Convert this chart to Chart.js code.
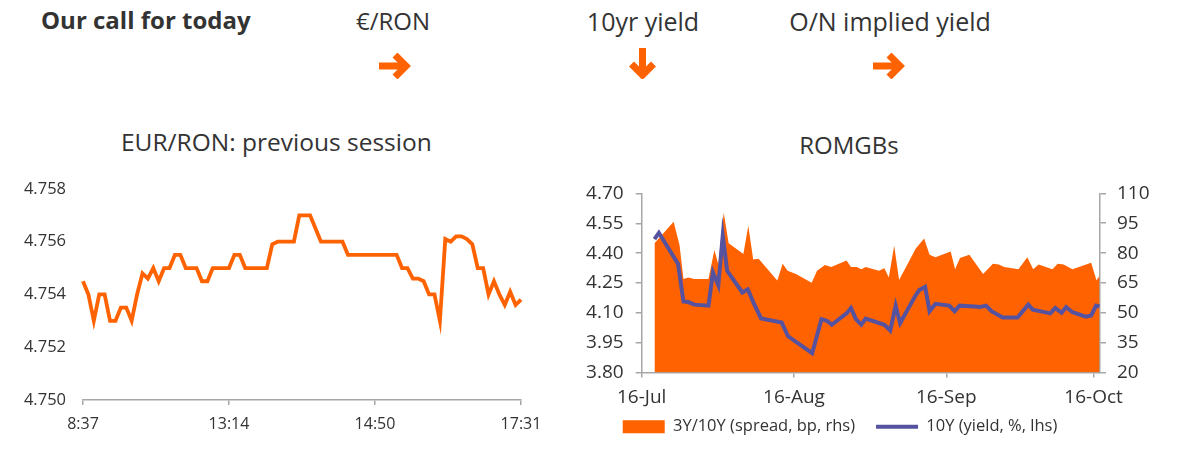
<!DOCTYPE html>
<html>
<head>
<meta charset="utf-8">
<script src="https://cdn.jsdelivr.net/npm/chart.js@4.4.1/dist/chart.umd.min.js"></script>
<style>
  body { margin: 0; background: #fff; font-family: "Open Sans", sans-serif; color: #333; }
  #page { position: relative; width: 1200px; height: 457px; overflow: hidden; }
  .txt { position: absolute; width: 300px; line-height: 30px; text-align: center; white-space: nowrap; font-size: 24px; }
  .arrow { position: absolute; }
  .box { position: absolute; }
</style>
</head>
<body>
<div id="page">
  <div class="txt" style="left:41px; top:5px; width:auto; text-align:left; font-weight:700; font-size:24px;">Our call for today</div>
  <div class="txt" style="left:243px; top:6px;">€/RON</div>
  <div class="txt" style="left:493px; top:6px; font-size:25px;">10yr yield</div>
  <div class="txt" style="left:740px; top:6px; font-size:25px;">O/N implied yield</div>

  <svg class="arrow" style="left:379px; top:53px;" width="32" height="26" viewBox="0 0 32 26">
    <path d="M0 13 H25" stroke="#ff6200" stroke-width="7" fill="none"/>
    <path d="M16 2 L27 13 L16 24" stroke="#ff6200" stroke-width="7" fill="none" stroke-linejoin="miter"/>
  </svg>
  <svg class="arrow" style="left:629px; top:48px;" width="27" height="31" viewBox="0 0 27 31">
    <path d="M13.5 0 V26" stroke="#ff6200" stroke-width="7" fill="none"/>
    <path d="M2.5 16 L13.5 27 L24.5 16" stroke="#ff6200" stroke-width="7" fill="none" stroke-linejoin="miter"/>
  </svg>
  <svg class="arrow" style="left:873px; top:53px;" width="32" height="26" viewBox="0 0 32 26">
    <path d="M0 13 H25" stroke="#ff6200" stroke-width="7" fill="none"/>
    <path d="M16 2 L27 13 L16 24" stroke="#ff6200" stroke-width="7" fill="none" stroke-linejoin="miter"/>
  </svg>

  <div class="txt" style="left:121px; top:127px; font-size:24.5px;">EUR/RON: previous session</div>
  <div class="txt" style="left:699px; top:130px;">ROMGBs</div>

  <div class="box" style="left:0; top:170px;"><canvas id="fxChart" width="560" height="287"></canvas></div>
  <div class="box" style="left:570px; top:170px;"><canvas id="bondChart" width="600" height="287"></canvas></div>
</div>

<script>
// EUR/RON intraday, previous session (one value per sampled quote)
const eurRon = [
  4.7545, 4.7540, 4.7530, 4.7540, 4.7540, 4.7530, 4.7530, 4.7535, 4.7535, 4.7530,
  4.7540, 4.7548, 4.7546, 4.7550, 4.7545, 4.7550, 4.7550, 4.7555, 4.7555, 4.7550,
  4.7550, 4.7550, 4.7545, 4.7545, 4.7550, 4.7550, 4.7550, 4.7550, 4.7555, 4.7555,
  4.7550, 4.7550, 4.7550, 4.7550, 4.7550, 4.7559, 4.7560, 4.7560, 4.7560, 4.7560,
  4.7570, 4.7570, 4.7570, 4.7565, 4.7560, 4.7560, 4.7560, 4.7560, 4.7560, 4.7555,
  4.7555, 4.7555, 4.7555, 4.7555, 4.7555, 4.7555, 4.7555, 4.7555, 4.7555, 4.7550,
  4.7550, 4.7546, 4.7546, 4.7545, 4.7540, 4.7540, 4.7530, 4.7561, 4.7560, 4.7562,
  4.7562, 4.7561, 4.7559, 4.7550, 4.7550, 4.7540, 4.7545, 4.7540, 4.7536, 4.7541,
  4.7536, 4.7538
];
const fxTickIndex = [0, 27, 54, 81];
const fxTickLabels = ["8:37", "13:14", "14:50", "17:31"];
const fxYTicks = [4.750, 4.752, 4.754, 4.756, 4.758];

// ROMGBs: days counted from 16-Jul
const spreadDays = [
  2.6, 6.5, 7.7, 8.5, 9.5, 10.7, 13.6, 14.8, 15.6, 16.7,
  17.7, 20.7, 21.7, 22.7, 23.8, 27.6, 28.7, 29.7, 31.4, 34.6,
  35.7, 37.3, 38.6, 41.7, 42.6, 43.8, 44.7, 45.6, 48.3, 49.4,
  50.3, 51.4, 52.4, 55.8, 57.5, 58.6, 59.8, 62.9, 63.8, 64.8,
  66.7, 69.5, 71.5, 72.7, 73.8, 76.7, 78.5, 79.7, 80.8, 83.6,
  84.7, 85.9, 87.7, 91.5, 92.6, 93.2
];
const spreadBp = [
  84.9, 95.7, 84.1, 67.0, 67.8, 67.0, 67.0, 81.6, 74.3, 100.3,
  84.9, 79.5, 93.8, 76.8, 77.1, 66.2, 74.6, 71.1, 69.5, 65.1,
  71.1, 74.0, 73.0, 76.3, 73.0, 73.0, 71.9, 73.0, 71.1, 72.4,
  67.8, 83.7, 66.5, 82.3, 87.3, 79.2, 77.9, 80.8, 71.9, 77.6,
  79.2, 69.5, 74.6, 74.3, 73.0, 71.9, 77.9, 71.9, 74.3, 71.9,
  74.6, 74.3, 71.9, 75.1, 66.2, 68.6
];
const yieldDays = [
  2.6, 3.5, 7.4, 8.5, 9.5, 10.7, 13.6, 14.5, 15.6, 16.5,
  17.4, 20.5, 21.6, 22.8, 24.3, 28.5, 29.8, 34.7, 36.6, 37.7,
  38.7, 41.7, 42.6, 43.6, 44.7, 45.6, 49.4, 50.6, 51.7, 52.6,
  55.6, 56.5, 57.7, 58.6, 59.8, 62.6, 63.7, 64.7, 67.8, 68.9,
  70.1, 71.2, 73.5, 76.5, 78.7, 79.6, 83.2, 84.2, 85.5, 86.4,
  87.7, 90.4, 91.5, 92.5, 93.2
];
const yield10y = [
  4.470, 4.502, 4.346, 4.157, 4.154, 4.141, 4.136, 4.303, 4.238, 4.489,
  4.311, 4.202, 4.218, 4.149, 4.072, 4.051, 3.982, 3.897, 4.068, 4.060,
  4.040, 4.097, 4.124, 4.068, 4.040, 4.071, 4.040, 4.011, 4.136, 4.048,
  4.181, 4.214, 4.230, 4.108, 4.145, 4.136, 4.108, 4.136, 4.132, 4.129,
  4.136, 4.108, 4.076, 4.076, 4.141, 4.116, 4.097, 4.124, 4.100, 4.129,
  4.103, 4.081, 4.087, 4.136, 4.132
];
const bondTickDays = [0, 31, 62, 92];
const bondTickLabels = ["16-Jul", "16-Aug", "16-Sep", "16-Oct"];
const yieldTicks = [3.80, 3.95, 4.10, 4.25, 4.40, 4.55, 4.70];
const spreadTicks = [20, 35, 50, 65, 80, 95, 110];

const ORANGE = "#ff6200";
const PURPLE = "#5552a0";
const GREY = "#a6a6a6";
const TEXT = "#333333";
const BOND_TICK_FONT = { size: 19 };

Chart.defaults.font.family = "'Open Sans', sans-serif";
Chart.defaults.font.size = 16;
Chart.defaults.color = TEXT;

// axis boxes are kept tight so the plot area lands where it should;
// let their tick labels spill out of the box instead of being clipped
function fixSize(prop, size) {
  return (s) => {
    s[prop] = size;
    s._computeLabelArea = () => undefined;
  };
}

new Chart(document.getElementById("fxChart"), {
  type: "line",
  data: {
    labels: eurRon.map((_, i) => i),
    datasets: [{
      data: eurRon,
      borderColor: ORANGE,
      borderWidth: 3.8,
      pointRadius: 0,
      tension: 0,
      fill: false
    }]
  },
  options: {
    responsive: false,
    animation: false,
    layout: { padding: { top: 16, right: 39, bottom: 0, left: 0 } },
    plugins: { legend: { display: false }, tooltip: { enabled: false } },
    scales: {
      x: {
        offset: false,
        afterBuildTicks: (s) => { s.ticks = fxTickIndex.map(v => ({ value: v })); },
        afterFit: fixSize("height", 57),
        grid: { drawOnChartArea: false, drawTicks: true, tickLength: 5, color: GREY, lineWidth: 1.5 },
        border: { display: true, color: GREY, width: 1.5 },
        ticks: {
          autoSkip: false,
          maxRotation: 0,
          padding: 10,
          callback: (v, i) => fxTickLabels[i]
        }
      },
      y: {
        min: 4.750,
        max: 4.758,
        afterBuildTicks: (s) => { s.ticks = fxYTicks.map(v => ({ value: v })); },
        afterFit: fixSize("width", 83),
        grid: { display: false },
        border: { display: false },
        ticks: { padding: 9, font: { size: 16.5 }, callback: (v) => Number(v).toFixed(3) }
      }
    }
  }
});

new Chart(document.getElementById("bondChart"), {
  type: "line",
  data: {
    datasets: [{
      label: "10Y (yield, %, lhs)",
      data: yieldDays.map((d, i) => ({ x: d, y: yield10y[i] })),
      yAxisID: "y",
      borderColor: PURPLE,
      backgroundColor: PURPLE,
      borderWidth: 4,
      pointRadius: 0,
      pointStyle: "line",
      tension: 0,
      fill: false
    }, {
      label: "3Y/10Y (spread, bp, rhs)",
      data: spreadDays.map((d, i) => ({ x: d, y: spreadBp[i] })),
      yAxisID: "y1",
      borderColor: ORANGE,
      backgroundColor: ORANGE,
      borderWidth: 0,
      pointRadius: 0,
      pointStyle: "rect",
      tension: 0,
      fill: "start"
    }]
  },
  options: {
    responsive: false,
    animation: false,
    layout: { padding: { top: 17.5, right: 60, bottom: 12, left: 0 } },
    plugins: {
      tooltip: { enabled: false },
      legend: {
        position: "bottom",
        reverse: true,
        labels: {
          usePointStyle: true,
          pointStyleWidth: 42,
          boxHeight: 13,
          padding: 21,
          color: TEXT,
          font: { size: 16.5 }
        }
      }
    },
    scales: {
      x: {
        type: "linear",
        min: 0,
        max: 93.3,
        afterBuildTicks: (s) => { s.ticks = bondTickDays.map(v => ({ value: v })); },
        afterFit: fixSize("height", 25),
        grid: { drawOnChartArea: false, drawTicks: true, tickLength: 5, color: GREY, lineWidth: 1.5 },
        border: { display: true, color: GREY, width: 1.5 },
        ticks: { autoSkip: false, maxRotation: 0, padding: 9, font: BOND_TICK_FONT, callback: (v, i) => bondTickLabels[i] }
      },
      y: {
        position: "left",
        min: 3.80,
        max: 4.70,
        afterBuildTicks: (s) => { s.ticks = yieldTicks.map(v => ({ value: v })); },
        afterFit: fixSize("width", 71.7),
        grid: { drawOnChartArea: false, drawTicks: true, tickLength: 6, color: GREY, lineWidth: 1.5 },
        border: { display: true, color: GREY, width: 1.5 },
        ticks: { padding: 12, font: BOND_TICK_FONT, callback: (v) => Number(v).toFixed(2) }
      },
      y1: {
        position: "right",
        min: 20,
        max: 110,
        afterBuildTicks: (s) => { s.ticks = spreadTicks.map(v => ({ value: v })); },
        afterFit: fixSize("width", 10),
        grid: { drawOnChartArea: false, drawTicks: true, tickLength: 6, color: GREY, lineWidth: 1.5 },
        border: { display: true, color: GREY, width: 1.5 },
        ticks: { padding: 11, font: BOND_TICK_FONT, callback: (v) => String(v) }
      }
    }
  }
});
</script>
</body>
</html>
